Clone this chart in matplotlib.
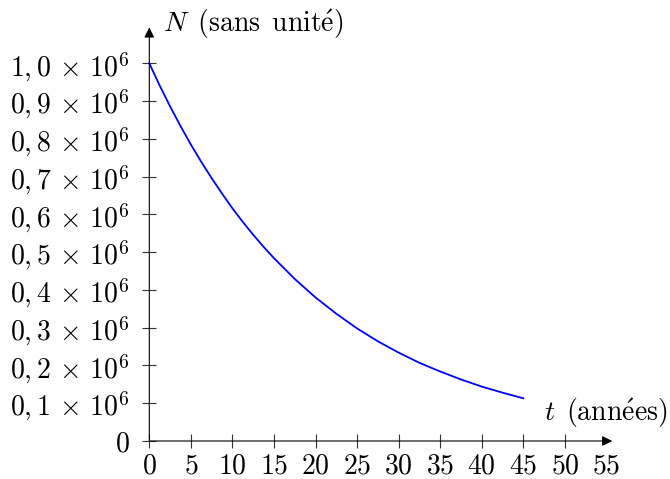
import matplotlib
matplotlib.use("Agg")
import matplotlib.pyplot as plt

plt.rcParams['mathtext.fontset'] = 'cm'
plt.rcParams['font.family'] = 'serif'
plt.rcParams['font.serif'] = ['cmr10', 'DejaVu Serif']

# valeurs (t en années, N en millions)
t_years = [0, 1.25, 2.5, 3.75, 5, 6.25, 7.5, 8.75, 10, 11.25, 12.5, 13.75, 15,
           17.5, 20, 22.5, 25, 27.5, 30, 32.5, 35, 37.5, 40, 42.5, 45]
n_million = [1.000, 0.941, 0.886, 0.834, 0.785, 0.739, 0.696, 0.655, 0.616, 0.580,
             0.546, 0.514, 0.484, 0.429, 0.380, 0.337, 0.298, 0.264, 0.234, 0.207,
             0.184, 0.163, 0.144, 0.128, 0.113]

x_ticks = [0, 5, 10, 15, 20, 25, 30, 35, 40, 45, 50, 55]
x_labels = ['0', '5', '10', '15', '20', '25', '30', '35', '40', '45', '50', '55']
y_ticks = [0, 0.1e6, 0.2e6, 0.3e6, 0.4e6, 0.5e6, 0.6e6, 0.7e6, 0.8e6, 0.9e6, 1.0e6]
y_labels = ['$0$'] + [r'$0,%d\,\times\,10^6$' % i for i in range(1, 10)] + [r'$1,0\,\times\,10^6$']

FS = 20

fig = plt.figure(figsize=(6.7, 4.79), dpi=100)
ax = fig.add_axes([149.3 / 670, 38 / 479, 60 * 8.311 / 670, 1.1 * 377.7 / 479])
ax.set_xlim(0, 60)
ax.set_ylim(0, 1.1e6)

ax.plot(t_years, [v * 1e6 for v in n_million], color='#0000ff', lw=1.3,
        solid_joinstyle='round', clip_on=False)

for s in ax.spines.values():
    s.set_visible(False)

# axes avec flèches
arrow = dict(arrowstyle='-|>', lw=0.8, color='black', mutation_scale=15,
             shrinkA=0, shrinkB=0)
ax.annotate('', xy=(55.7, 0), xytext=(0, 0), arrowprops=arrow, annotation_clip=False)
ax.annotate('', xy=(0, 1.095e6), xytext=(0, 0), arrowprops=arrow, annotation_clip=False)

ax.set_xticks(x_ticks)
ax.set_xticklabels(['$%s$' % l for l in x_labels])
ax.set_yticks(y_ticks)
ax.set_yticklabels(y_labels)
ax.tick_params(direction='inout', length=10.5, width=0.8, color='#333333',
               labelsize=FS)
ax.tick_params(axis='x', pad=3.5)
ax.tick_params(axis='y', pad=9)

# pas de graduation à 55 (la flèche est là)
last = ax.xaxis.get_major_ticks()[-1]
last.tick1line.set_visible(False)
last.tick2line.set_visible(False)

ax.text(1.6, 1.103e6, r'$N\ \,\mathrm{(sans\ \,unit\acute{e})}$', fontsize=FS,
        ha='left', va='center')
ax.text(62.4, 0.075e6, r'$t\ \,\mathrm{(ann\acute{e}es)}$', fontsize=FS,
        ha='right', va='center')

fig.savefig('out.png', dpi=100)
